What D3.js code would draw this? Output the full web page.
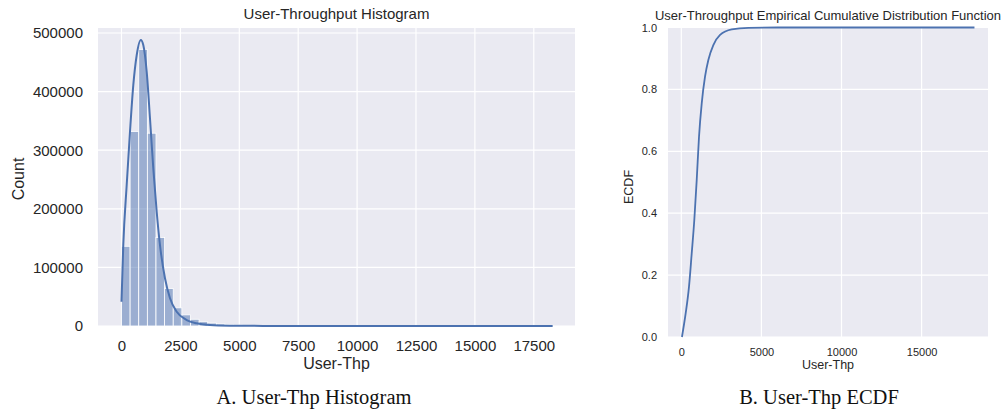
<!DOCTYPE html>
<html>
<head>
<meta charset="utf-8">
<script src="https://cdn.jsdelivr.net/npm/d3@7"></script>
<style>
  html, body { margin: 0; padding: 0; background: #ffffff; }
  svg { display: block; }
  text { font-family: "Liberation Sans", Arial, sans-serif; fill: #262626; }
  .caption { font-family: "Liberation Serif", "Times New Roman", serif; fill: #111; }
</style>
</head>
<body>
<svg id="chart" width="1005" height="410"></svg>
<script>
// Histogram of user throughput: 50 equal-width bins starting at 0
const binStart = 0;
const binWidth = 366;
const histCounts = [
  136000, 332000, 472000, 329000, 151000, 64000, 31000, 19000, 11500, 7300,
  5000, 3400, 2400, 1700, 1200, 900, 650, 500, 380, 300,
  240, 190, 150, 120, 100, 85, 70, 60, 50, 42,
  36, 30, 26, 22, 19, 16, 14, 12, 10, 9,
  8, 7, 6, 5, 4, 4, 3, 3, 2, 2
];

// Kernel density estimate (scaled to counts)
const kdeX = [0, 76, 221, 361, 501, 645, 820, 925, 1070, 1210, 1350, 1494, 1634,
  1846, 2059, 2343, 2767, 3192, 3756, 4600, 6000, 8000, 18300];
const kdeY = [41500, 138000, 240600, 331600, 411000, 462000, 488000, 479500, 434000,
  354000, 269000, 195000, 138000, 81400, 47300, 24400, 10200, 4600, 1700, 600, 150, 30, 0];

// Empirical cumulative distribution
const ecdfX = [40, 275, 481, 650, 812, 962, 1106, 1275, 1481, 1688, 2000, 2419, 3150,
  4188, 6000, 18300];
const ecdfY = [0, 0.077, 0.163, 0.27, 0.378, 0.507, 0.647, 0.755, 0.841, 0.895, 0.943,
  0.976, 0.994, 0.999, 1.0, 1.0];

// Tick values
const histXTicks = [0, 2500, 5000, 7500, 10000, 12500, 15000, 17500];
const histYTicks = [0, 100000, 200000, 300000, 400000, 500000];
const ecdfXTicks = [0, 5000, 10000, 15000];
const ecdfYTicks = [0, 0.2, 0.4, 0.6, 0.8, 1.0];

const BLUE = "#4C72B0";
const PANEL = "#EAEAF2";

const svg = d3.select("#chart");

// ---------- Left panel: histogram ----------
const hx = d3.scaleLinear().domain([-997, 19249]).range([98, 575]);
const hy = d3.scaleLinear().domain([0, 508500]).range([326, 28]);

const left = svg.append("g");
left.append("rect")
  .attr("x", hx.range()[0]).attr("y", hy.range()[1])
  .attr("width", hx.range()[1] - hx.range()[0])
  .attr("height", hy.range()[0] - hy.range()[1])
  .attr("fill", PANEL);

left.append("g").selectAll("line.vx").data(histXTicks).join("line")
  .attr("x1", d => hx(d)).attr("x2", d => hx(d))
  .attr("y1", hy.range()[0]).attr("y2", hy.range()[1])
  .attr("stroke", "#fff").attr("stroke-width", 1.2);
left.append("g").selectAll("line.hy").data(histYTicks).join("line")
  .attr("x1", hx.range()[0]).attr("x2", hx.range()[1])
  .attr("y1", d => hy(d)).attr("y2", d => hy(d))
  .attr("stroke", "#fff").attr("stroke-width", 1.2);

const bins = histCounts.map((c, i) => ({ x0: binStart + i * binWidth, x1: binStart + (i + 1) * binWidth, c }));
left.append("g").selectAll("rect").data(bins).join("rect")
  .attr("x", d => hx(d.x0))
  .attr("width", d => hx(d.x1) - hx(d.x0))
  .attr("y", d => hy(d.c))
  .attr("height", d => hy(0) - hy(d.c))
  .attr("fill", BLUE).attr("fill-opacity", 0.5)
  .attr("stroke", "#fff").attr("stroke-width", 0.8);

const kde = kdeX.map((x, i) => [x, kdeY[i]]);
left.append("path")
  .datum(kde)
  .attr("d", d3.line().x(d => hx(d[0])).y(d => hy(d[1])).curve(d3.curveMonotoneX))
  .attr("fill", "none").attr("stroke", BLUE).attr("stroke-width", 2)
  .attr("stroke-linejoin", "round");

const hxAxis = left.append("g").attr("transform", `translate(0,${hy.range()[0]})`)
  .call(d3.axisBottom(hx).tickValues(histXTicks).tickFormat(d3.format("d")).tickSize(0).tickPadding(14));
const hyAxis = left.append("g").attr("transform", `translate(${hx.range()[0]},0)`)
  .call(d3.axisLeft(hy).tickValues(histYTicks).tickFormat(d3.format("d")).tickSize(0).tickPadding(15));
[hxAxis, hyAxis].forEach(a => {
  a.select(".domain").remove();
  a.selectAll("text").attr("font-size", 15).attr("fill", "#262626")
    .attr("font-family", '"Liberation Sans", Arial, sans-serif');
});

left.append("text").attr("x", 336.5).attr("y", 19).attr("text-anchor", "middle")
  .attr("font-size", 15).text("User-Throughput Histogram");
left.append("text").attr("x", 336.5).attr("y", 369).attr("text-anchor", "middle")
  .attr("font-size", 16).text("User-Thp");
left.append("text").attr("transform", "translate(18,179) rotate(-90)")
  .attr("dy", "0.35em").attr("text-anchor", "middle")
  .attr("font-size", 16).text("Count");

svg.append("text").attr("class", "caption").attr("x", 314).attr("y", 404)
  .attr("text-anchor", "middle").attr("font-size", 20.5).text("A. User-Thp Histogram");

// ---------- Right panel: ECDF ----------
const ex = d3.scaleLinear().domain([-830, 19145]).range([668, 988]);
const ey = d3.scaleLinear().domain([0, 1]).range([337, 27.5]);

const right = svg.append("g");
right.append("rect")
  .attr("x", ex.range()[0]).attr("y", ey.range()[1])
  .attr("width", ex.range()[1] - ex.range()[0])
  .attr("height", ey.range()[0] - ey.range()[1])
  .attr("fill", PANEL);

right.append("g").selectAll("line").data(ecdfXTicks).join("line")
  .attr("x1", d => ex(d)).attr("x2", d => ex(d))
  .attr("y1", ey.range()[0]).attr("y2", ey.range()[1])
  .attr("stroke", "#fff").attr("stroke-width", 1.2);
right.append("g").selectAll("line").data(ecdfYTicks).join("line")
  .attr("x1", ex.range()[0]).attr("x2", ex.range()[1])
  .attr("y1", d => ey(d)).attr("y2", d => ey(d))
  .attr("stroke", "#fff").attr("stroke-width", 1.2);

const ecdf = ecdfX.map((x, i) => [x, ecdfY[i]]);
right.append("path")
  .datum(ecdf)
  .attr("d", d3.line().x(d => ex(d[0])).y(d => ey(d[1])).curve(d3.curveMonotoneX))
  .attr("fill", "none").attr("stroke", BLUE).attr("stroke-width", 1.8)
  .attr("stroke-linejoin", "round");

const exAxis = right.append("g").attr("transform", `translate(0,${ey.range()[0]})`)
  .call(d3.axisBottom(ex).tickValues(ecdfXTicks).tickFormat(d3.format("d")).tickSize(0).tickPadding(11.5));
const eyAxis = right.append("g").attr("transform", `translate(${ex.range()[0]},0)`)
  .call(d3.axisLeft(ey).tickValues(ecdfYTicks).tickFormat(d3.format(".1f")).tickSize(0).tickPadding(11));
[exAxis, eyAxis].forEach(a => {
  a.select(".domain").remove();
  a.selectAll("text").attr("font-size", 11).attr("fill", "#333")
    .attr("font-family", '"Liberation Sans", Arial, sans-serif');
});

right.append("text").attr("x", 828).attr("y", 20).attr("text-anchor", "middle")
  .attr("font-size", 13).text("User-Throughput Empirical Cumulative Distribution Function");
right.append("text").attr("x", 828).attr("y", 369).attr("text-anchor", "middle")
  .attr("font-size", 12.5).attr("fill", "#444").text("User-Thp");
right.append("text").attr("transform", "translate(629,187) rotate(-90)")
  .attr("dy", "0.35em").attr("text-anchor", "middle")
  .attr("font-size", 12.5).attr("fill", "#444").text("ECDF");

svg.append("text").attr("class", "caption").attr("x", 819).attr("y", 404)
  .attr("text-anchor", "middle").attr("font-size", 20.5).text("B. User-Thp ECDF");
</script>
</body>
</html>
